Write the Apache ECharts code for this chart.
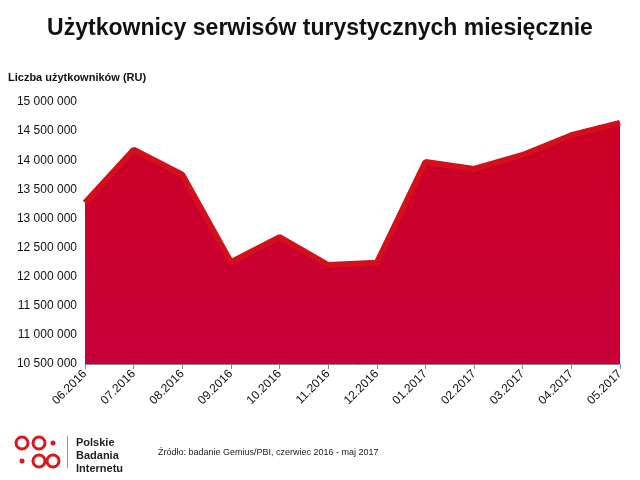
<!DOCTYPE html>
<html>
<head>
<meta charset="utf-8">
<script src="https://cdn.jsdelivr.net/npm/echarts@6/dist/echarts.min.js"></script>
<style>
  body { margin: 0; background: #fff; }
  #chart { width: 640px; height: 480px; }
</style>
</head>
<body>
<div id="chart"></div>
<script>
const months = ['06.2016', '07.2016', '08.2016', '09.2016', '10.2016', '11.2016',
  '12.2016', '01.2017', '02.2017', '03.2017', '04.2017', '05.2017'];
const users = [13270000, 14180000, 13750000, 12250000, 12680000, 12200000,
  12240000, 13970000, 13850000, 14090000, 14430000, 14640000];

const chart = echarts.init(document.getElementById('chart'));

function fmt(v) {
  return String(v).replace(/\B(?=(\d{3})+(?!\d))/g, ' ');
}

chart.setOption({
  animation: false,
  title: {
    text: 'Użytkownicy serwisów turystycznych miesięcznie',
    left: 'center', top: 12,
    textStyle: { fontFamily: 'Liberation Sans', fontSize: 23, fontWeight: 'bold', color: '#111' }
  },
  graphic: [
    { type: 'text', left: 8, top: 72,
      style: { text: 'Liczba użytkowników (RU)', font: 'bold 11px Liberation Sans', fill: '#111' } },
    { type: 'circle', shape: { cx: 22, cy: 443, r: 6 }, style: { fill: '#fff', stroke: '#d71920', lineWidth: 3 } },
    { type: 'circle', shape: { cx: 39, cy: 443, r: 6 }, style: { fill: '#fff', stroke: '#d71920', lineWidth: 3 } },
    { type: 'circle', shape: { cx: 53, cy: 443, r: 2.5 }, style: { fill: '#d71920' } },
    { type: 'circle', shape: { cx: 22, cy: 461, r: 2.5 }, style: { fill: '#d71920' } },
    { type: 'circle', shape: { cx: 39, cy: 461, r: 6 }, style: { fill: '#fff', stroke: '#d71920', lineWidth: 3 } },
    { type: 'circle', shape: { cx: 53, cy: 461, r: 6 }, style: { fill: '#fff', stroke: '#d71920', lineWidth: 3 } },
    { type: 'rect', shape: { x: 67, y: 436, width: 1, height: 32 }, style: { fill: '#999' } },
    { type: 'text', left: 76, top: 436,
      style: { text: 'Polskie\nBadania\nInternetu', font: 'bold 11px Liberation Sans', fill: '#222', lineHeight: 13 } },
    { type: 'text', left: 158, top: 448,
      style: { text: 'Źródło: badanie Gemius/PBI, czerwiec 2016 - maj 2017', font: '9px Liberation Sans', fill: '#222' } }
  ],
  grid: { left: 85, right: 20, top: 102, bottom: 116 },
  xAxis: {
    type: 'category', data: months, boundaryGap: false,
    axisLine: { lineStyle: { color: '#888' } },
    axisTick: { show: true, lineStyle: { color: '#888' } },
    axisLabel: { rotate: 45, color: '#111', fontSize: 12, fontFamily: 'Liberation Sans', margin: 8 }
  },
  yAxis: {
    type: 'value', min: 10500000, max: 15000000, interval: 500000,
    axisLine: { show: false }, axisTick: { show: false },
    splitLine: { show: false },
    axisLabel: { formatter: fmt, color: '#111', fontSize: 12, fontFamily: 'Liberation Sans', margin: 8 }
  },
  series: [{
    type: 'line', data: users, showSymbol: false,
    lineStyle: { color: '#d40f1c', width: 6 },
    areaStyle: {
      color: new echarts.graphic.LinearGradient(0, 0, 0, 1, [
        { offset: 0, color: '#cc0024' }, { offset: 1, color: '#c8003a' }
      ]),
      opacity: 1
    }
  }]
});
</script>
</body>
</html>
